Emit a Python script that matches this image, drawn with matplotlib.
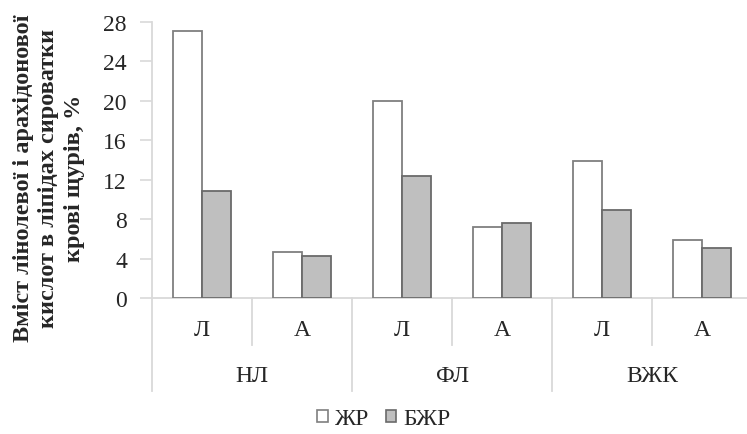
import matplotlib
matplotlib.use("Agg")
import matplotlib.pyplot as plt
import matplotlib.transforms as mtransforms
from matplotlib.patches import Patch

plt.rcParams['font.family'] = ['Liberation Serif', 'DejaVu Serif']

groups = ["НЛ", "ФЛ", "ВЖК"]
acids = ["Л", "А"]
series_names = ["ЖР", "БЖР"]
zhr = [27.1, 4.7, 20.0, 7.2, 13.9, 5.9]
bzhr = [10.9, 4.3, 12.4, 7.6, 8.9, 5.1]
yticks = [0, 4, 8, 12, 16, 20, 24, 28]
ylabel = "Вміст лінолевої і арахідонової\nкислот в ліпідах сироватки\nкрові щурів, %"

W, H = 747, 435
fig = plt.figure(figsize=(W / 100, H / 100), dpi=100)
ax_left, ax_right, ax_top, ax_bot = 152, 752, 23, 299
ax = fig.add_axes([ax_left / W, 1 - ax_bot / H, (ax_right - ax_left) / W, (ax_bot - ax_top) / H])

FS = 17
TC = '#262626'
n = len(zhr)
xs = [i + 0.5 for i in range(n)]
bw = 0.29
edge = '#7f7f7f'
ax.bar([x - bw / 2 for x in xs], zhr, width=bw, color='white', edgecolor=edge, linewidth=1.3, zorder=3)
ax.bar([x + bw / 2 for x in xs], bzhr, width=bw, color='#bfbfbf', edgecolor='#6a6a6a', linewidth=1.3, zorder=3)

ax.set_xlim(0, n)
ax.set_ylim(0, 28)
ax.set_yticks(yticks)
ax.set_yticklabels([str(t) for t in yticks], fontsize=FS, color=TC)
ax.tick_params(axis='y', length=9, width=1.2, color='#d9d9d9', pad=9)
ax.set_xticks([])
for s in ['top', 'right']:
    ax.spines[s].set_visible(False)
for s in ['left', 'bottom']:
    ax.spines[s].set_color('#d9d9d9')
    ax.spines[s].set_linewidth(1.3)

trans = mtransforms.blended_transform_factory(ax.transData, ax.transAxes)
ah = ax_bot - ax_top
for i in range(n + 1):
    ylow = -(392 - ax_bot) / ah if i % 2 == 0 else -(346 - ax_bot) / ah
    ax.plot([i, i], [0, ylow], transform=trans, color='#d9d9d9', lw=1.3, clip_on=False)

for i, x in enumerate(xs):
    ax.text(x, -(331 - ax_bot) / ah, acids[i % 2], transform=trans, ha='center', va='center',
            fontsize=FS, color=TC)
for g, name in enumerate(groups):
    ax.text(2 * g + 1, -(376 - ax_bot) / ah, name, transform=trans, ha='center', va='center',
            fontsize=FS, color=TC)

fig.text(49 / W, 1 - 178 / H, ylabel, rotation=90, ha='center', va='center', fontsize=17.5,
         fontweight='bold', color=TC, linespacing=1.3, multialignment='center')

handles = [Patch(facecolor='white', edgecolor=edge, linewidth=1.2),
           Patch(facecolor='#bfbfbf', edgecolor='#6a6a6a', linewidth=1.2)]
fig.legend(handles, series_names, loc='center', bbox_to_anchor=(384 / W, 1 - 420 / H), ncol=2,
           frameon=False, fontsize=FS, handlelength=0.45, handleheight=0.45, handletextpad=0.3,
           columnspacing=0.7, labelcolor=TC, borderpad=0.1)

fig.savefig('out.png', dpi=100)
